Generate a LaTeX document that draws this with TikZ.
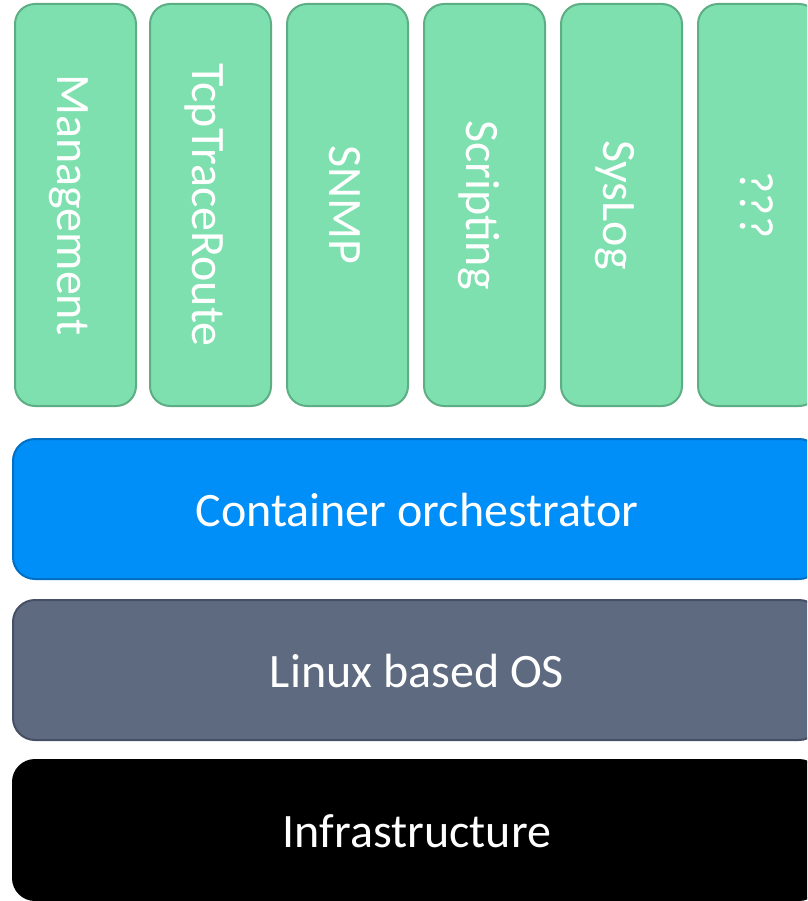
\documentclass[tikz,border=0pt]{standalone}
\usepackage{fontspec}
\setmainfont{Carlito}
\usetikzlibrary{calc}
\definecolor{gfill}{HTML}{7EE0AE}
\definecolor{gdraw}{HTML}{5DAE84}
\definecolor{bfill}{HTML}{008EF8}
\definecolor{bdraw}{HTML}{006FC4}
\definecolor{sfill}{HTML}{5E6A80}
\definecolor{sdraw}{HTML}{465064}
\tikzset{
  colbox/.style={draw=gdraw, fill=gfill, line width=2pt, rounded corners=20pt,
    minimum width=121pt, minimum height=402pt, inner sep=0pt, anchor=north west},
  barbox/.style={line width=2pt, rounded corners=22pt,
    minimum width=808pt, minimum height=140pt, inner sep=0pt, anchor=north west},
  vlabel/.style={text=white, rotate=-90, anchor=base, inner sep=0pt,
    font=\fontsize{48}{57}\selectfont},
  hlabel/.style={text=white, anchor=base, inner sep=0pt,
    font=\fontsize{48}{57}\selectfont},
}
\begin{document}
\begin{tikzpicture}[x=1pt,y=-1pt]
\useasboundingbox (0,0) rectangle (807,901);
\clip (0,0) rectangle (807,901);
% green columns
\node[colbox] (c1) at (14,3) {};
\node[colbox] (c2) at (149,3) {};
\node[colbox] (c3) at (286,3) {};
\node[colbox] (c4) at (423,3) {};
\node[colbox] (c5) at (560,3) {};
\node[colbox] (c6) at (697,3) {};
\node[vlabel] (t1) at ($(c1.west)+(43,0)$) {Management};
\node[vlabel] (t2) at ($(c2.west)+(43,0)$) {TcpTraceRoute};
\node[vlabel] (t3) at ($(c3.west)+(43,0)$) {SNMP};
\node[vlabel] (t4) at ($(c4.west)+(43,0)$) {Scripting};
\node[vlabel] (t5) at ($(c5.west)+(43,0)$) {SysLog};
\node[vlabel] (t6) at ($(c6.west)+(43,0)$) {???};
% bars
\node[barbox, draw=bdraw, fill=bfill] (orch) at (12,438) {};
\node[barbox, draw=sdraw, fill=sfill] (os) at (12,599) {};
\node[barbox, draw=black, fill=black] (infra) at (12,759) {};
\node[hlabel] (orchT) at ($(orch.center)+(0,17)$) {Container orchestrator};
\node[hlabel] (osT) at ($(os.center)+(0,17)$) {Linux based OS};
\node[hlabel] (infraT) at ($(infra.center)+(0,17)$) {Infrastructure};
\end{tikzpicture}
\end{document}
